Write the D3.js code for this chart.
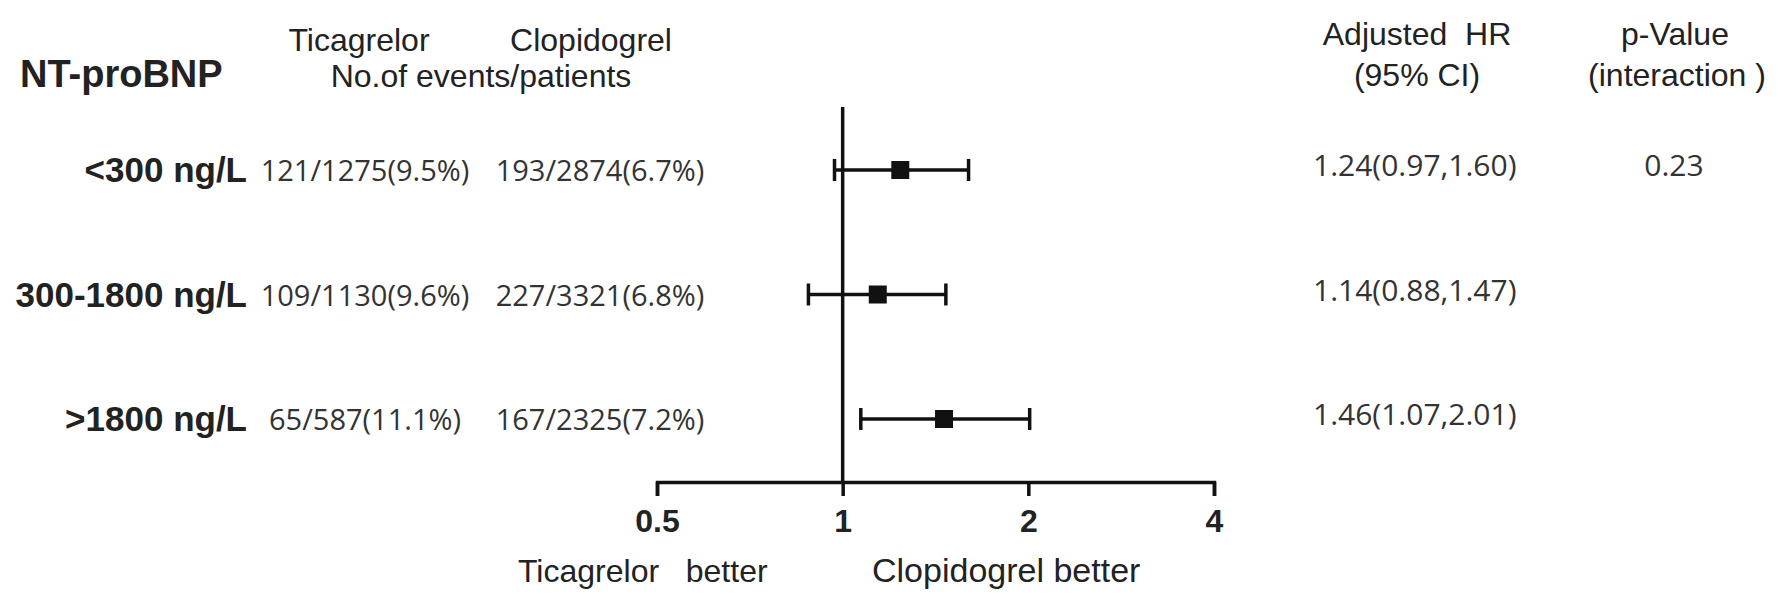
<!DOCTYPE html>
<html>
<head>
<meta charset="utf-8">
<script src="https://cdnjs.cloudflare.com/ajax/libs/d3/7.8.5/d3.min.js"></script>
<style>
  body { margin: 0; background: #fff; }
  svg { display: block; }
  .lbl { font-family: "Liberation Sans", Arial, sans-serif; fill: #222; }
  .num { font-family: "Open Sans", "Noto Sans", sans-serif; fill: #333; }
</style>
</head>
<body>
<div id="chart"></div>
<script>
// subgroups
var groups = ["<300 ng/L", "300-1800 ng/L", ">1800 ng/L"];

// ticagrelor: events / patients (%)
var ticaEvents = [121, 109, 65];
var ticaPatients = [1275, 1130, 587];
var ticaPct = ["9.5", "9.6", "11.1"];

// clopidogrel: events / patients (%)
var clopiEvents = [193, 227, 167];
var clopiPatients = [2874, 3321, 2325];
var clopiPct = ["6.7", "6.8", "7.2"];

// adjusted hazard ratios with 95% CI
var hr = [1.24, 1.14, 1.46];
var hrLow = [0.97, 0.88, 1.07];
var hrHigh = [1.60, 1.47, 2.01];
var pInteraction = ["0.23", "", ""];

var tickValues = [0.5, 1, 2, 4];
var tickLabels = ["0.5", "1", "2", "4"];

var width = 1778, height = 594;

var svg = d3.select("#chart").append("svg")
    .attr("width", width)
    .attr("height", height);

svg.append("rect")
    .attr("width", width)
    .attr("height", height)
    .attr("fill", "#fff");

var x = d3.scaleLog()
    .base(2)
    .domain([0.5, 4])
    .range([657, 1214]);

var y = d3.scalePoint()
    .domain(groups)
    .range([170, 419]);

var axisY = 482;

// headers
function header(txt, cx, cy, size) {
    svg.append("text")
        .attr("class", "lbl")
        .attr("x", cx)
        .attr("y", cy)
        .attr("text-anchor", "middle")
        .style("font-size", size + "px")
        .style("white-space", "pre")
        .text(txt);
}

svg.append("text")
    .attr("class", "lbl")
    .attr("x", 20)
    .attr("y", 87)
    .style("font-size", "38px")
    .style("font-weight", "bold")
    .text("NT-proBNP");

header("Ticagrelor", 359, 51, 32);
header("Clopidogrel", 591, 51, 32);
header("No.of events/patients", 481, 87, 32);
header("Adjusted  HR", 1417, 45, 32);
header("(95% CI)", 1417, 86, 32);
header("p-Value", 1675, 45, 32);
header("(interaction )", 1677, 86, 32);

// row labels and numbers
var rows = svg.append("g").selectAll("g")
    .data(groups)
    .enter().append("g")
    .attr("transform", function(d) { return "translate(0," + y(d) + ")"; });

rows.append("text")
    .attr("class", "lbl")
    .attr("x", 247)
    .attr("y", 12)
    .attr("text-anchor", "end")
    .style("font-size", "35px")
    .style("font-weight", "bold")
    .text(function(d) { return d; });

rows.append("text")
    .attr("class", "num")
    .attr("x", 365)
    .attr("y", 11)
    .attr("text-anchor", "middle")
    .style("font-size", "29px")
    .text(function(d, i) { return ticaEvents[i] + "/" + ticaPatients[i] + "(" + ticaPct[i] + "%)"; });

rows.append("text")
    .attr("class", "num")
    .attr("x", 600)
    .attr("y", 11)
    .attr("text-anchor", "middle")
    .style("font-size", "29px")
    .text(function(d, i) { return clopiEvents[i] + "/" + clopiPatients[i] + "(" + clopiPct[i] + "%)"; });

rows.append("text")
    .attr("class", "num")
    .attr("x", 1313)
    .attr("y", 6)
    .style("font-size", "30px")
    .text(function(d, i) { return hr[i].toFixed(2) + "(" + hrLow[i].toFixed(2) + "," + hrHigh[i].toFixed(2) + ")"; });

rows.append("text")
    .attr("class", "num")
    .attr("x", 1674)
    .attr("y", 6)
    .attr("text-anchor", "middle")
    .style("font-size", "30px")
    .text(function(d, i) { return pInteraction[i]; });

// line of no effect
svg.append("line")
    .attr("x1", x(1)).attr("x2", x(1))
    .attr("y1", 107).attr("y2", axisY)
    .attr("stroke", "#111")
    .attr("stroke-width", 3.5);

// confidence intervals
rows.append("line")
    .attr("x1", function(d, i) { return x(hrLow[i]); })
    .attr("x2", function(d, i) { return x(hrHigh[i]); })
    .attr("stroke", "#111")
    .attr("stroke-width", 3.5);

rows.append("line")
    .attr("x1", function(d, i) { return x(hrLow[i]); })
    .attr("x2", function(d, i) { return x(hrLow[i]); })
    .attr("y1", -11).attr("y2", 11)
    .attr("stroke", "#111")
    .attr("stroke-width", 3.5);

rows.append("line")
    .attr("x1", function(d, i) { return x(hrHigh[i]); })
    .attr("x2", function(d, i) { return x(hrHigh[i]); })
    .attr("y1", -11).attr("y2", 11)
    .attr("stroke", "#111")
    .attr("stroke-width", 3.5);

rows.append("rect")
    .attr("x", function(d, i) { return x(hr[i]) - 9; })
    .attr("y", -9)
    .attr("width", 18)
    .attr("height", 18)
    .attr("fill", "#111");

// x axis
var axis = d3.axisBottom(x)
    .tickValues(tickValues)
    .tickFormat(function(d, i) { return tickLabels[i]; })
    .tickSize(14)
    .tickSizeOuter(14)
    .tickPadding(13);

var gx = svg.append("g")
    .attr("transform", "translate(0," + axisY + ")")
    .call(axis);

gx.select(".domain")
    .attr("stroke", "#111")
    .attr("stroke-width", 3.5);
gx.selectAll(".tick line")
    .attr("stroke", "#111")
    .attr("stroke-width", 3.5);
gx.selectAll(".tick text")
    .attr("fill", "#222")
    .style("font-family", "\"Liberation Sans\", Arial, sans-serif")
    .style("font-size", "32px")
    .style("font-weight", "bold");

// favour labels
svg.append("text")
    .attr("class", "lbl")
    .attr("x", 518)
    .attr("y", 582)
    .style("font-size", "32px")
    .style("white-space", "pre")
    .text("Ticagrelor   better");

svg.append("text")
    .attr("class", "lbl")
    .attr("x", 872)
    .attr("y", 582)
    .style("font-size", "34px")
    .text("Clopidogrel better");
</script>
</body>
</html>
